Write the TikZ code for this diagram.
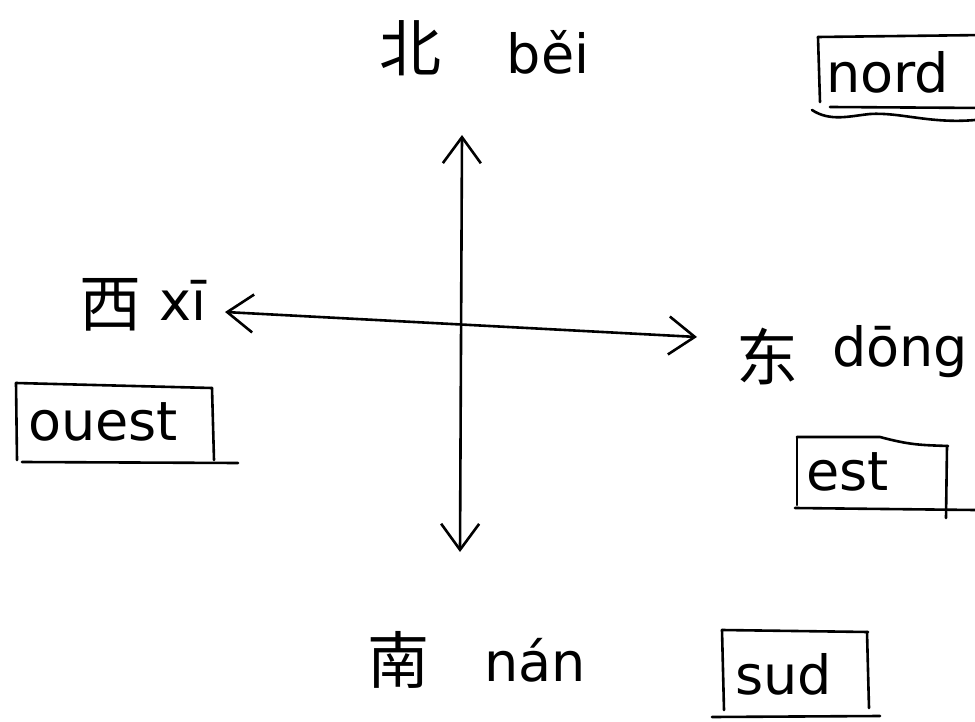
\documentclass[tikz,border=0pt]{standalone}
\usepackage{fontspec}
\setmainfont{DejaVu Sans}
\newfontfamily\cjk{Noto Sans CJK SC}
\usetikzlibrary{arrows.meta}
\begin{document}
\begin{tikzpicture}[x=1pt,y=-1pt,
  ink/.style={line width=2.6pt,black,line cap=round,line join=round},
  hanzi/.style={font=\cjk\fontsize{62}{62}\selectfont,inner sep=0pt},
  pinyin/.style={font=\fontsize{54}{54}\selectfont,inner sep=0pt},
  frlabel/.style={font=\fontsize{54}{54}\selectfont,inner sep=0pt},
  twoway/.style={{Straight Barb[length=26pt,width=38pt,line width=2.6pt]}-{Straight Barb[length=26pt,width=38pt,line width=2.6pt]}},
]
\useasboundingbox (0,0) rectangle (975,722);
\fill[white] (0,0) rectangle (975,722);
\clip (0,0) rectangle (975,722);

% axis end points
\coordinate (north) at (462,135);
\coordinate (south) at (460,552);
\coordinate (west) at (225,312);
\coordinate (east) at (697,337);

\draw[ink,twoway] (south) -- (north);
\draw[ink,twoway] (west) -- (east);

% north
\node[hanzi] (bei) at (410,48) {北};
\node[pinyin] (beipy) at (548,52) {běi};
\node[frlabel,anchor=west] (nord) at (826,72) {nord};
\draw[ink] (818,37) -- (985,35);
\draw[ink] (818,37) -- (820,102);
\draw[ink] (830,107) -- (985,108);
\draw[ink] (812,110) .. controls (830,122) and (850,116) .. (870,114) .. controls (900,112) and (930,124) .. (975,120);

% west
\node[hanzi] (xi) at (110,305) {西};
\node[pinyin] (xipy) at (183,300) {xī};
\node[frlabel,anchor=west] (ouest) at (28,422) {ouest};
\draw[ink] (16,383) -- (212,388);
\draw[ink] (16,383) -- (17,460);
\draw[ink] (212,388) -- (214,460);
\draw[ink] (22,462) -- (238,463);

% east
\node[hanzi] (dong) at (767,357) {东};
\node[pinyin] (dongpy) at (900,352) {dōng};
\node[frlabel,anchor=west] (est) at (806,472) {est};
\draw[ink] (797,437) -- (880,437) .. controls (910,445) and (920,445) .. (948,446);
\draw[ink] (797,437) -- (797,505);
\draw[ink] (947,446) -- (946,518);
\draw[ink] (795,508) -- (975,510);

% south
\node[hanzi] (nan) at (398,660) {南};
\node[pinyin] (nanpy) at (535,660) {nán};
\node[frlabel,anchor=west] (sud) at (735,674) {sud};
\draw[ink] (722,630) -- (868,632);
\draw[ink] (722,630) -- (724,710);
\draw[ink] (867,632) -- (869,708);
\draw[ink] (712,717) -- (880,716);
\end{tikzpicture}
\end{document}
